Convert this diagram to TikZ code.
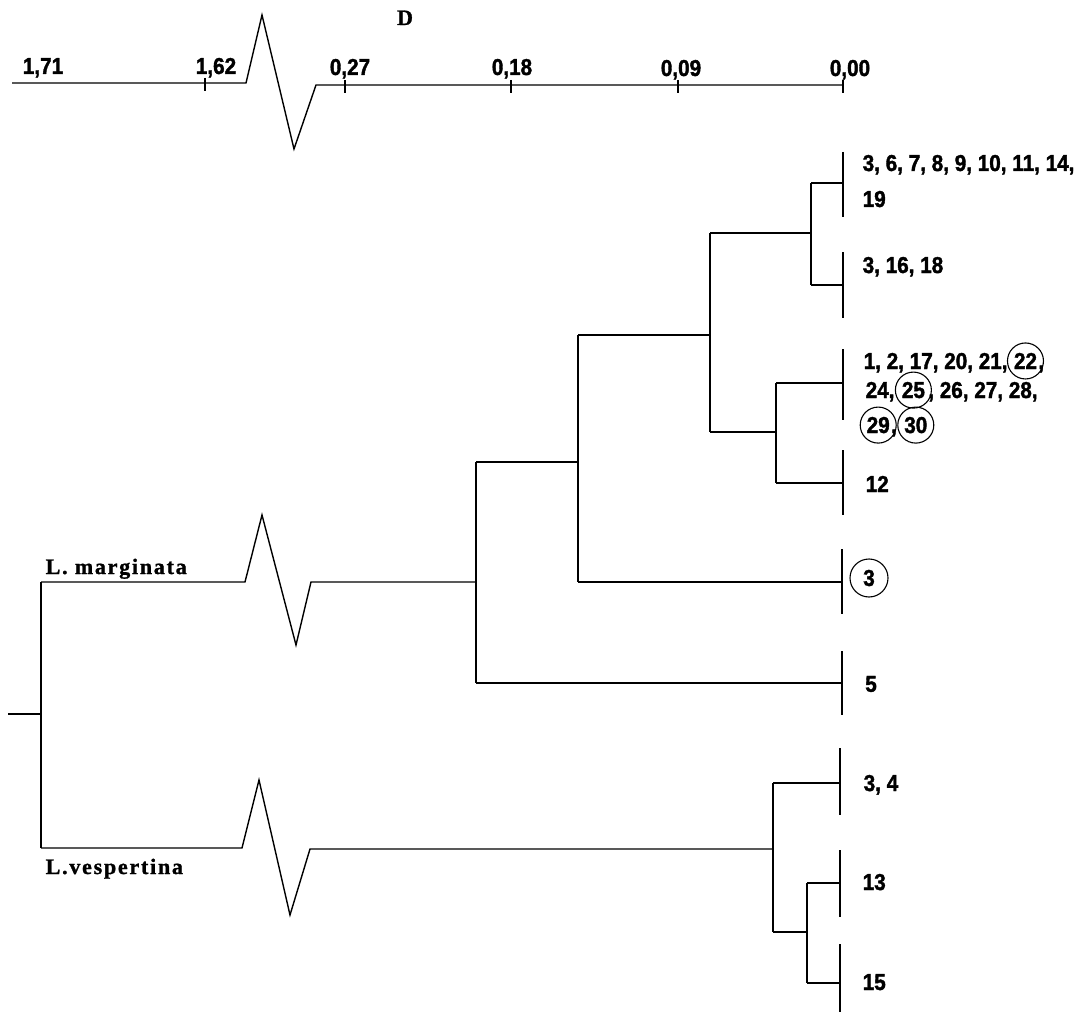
\documentclass[tikz,border=0pt]{standalone}
\usepackage{fontspec}
\setmainfont{Liberation Serif}
\newfontfamily\numfont{Liberation Sans}[FakeStretch=0.9,FakeBold=1.6]
\newfontfamily\specfont{Liberation Serif}[FakeBold=1.2,LetterSpace=8]
\begin{document}
\begin{tikzpicture}[x=1pt,y=-1pt,line width=1.4pt,
  num/.style={font=\numfont\bfseries\fontsize{23}{25}\selectfont,inner sep=0pt,anchor=base west},
  axl/.style={font=\numfont\bfseries\fontsize{23}{25}\selectfont,inner sep=0pt,anchor=base},
  spec/.style={font=\specfont\bfseries\fontsize{22}{24}\selectfont,inner sep=0pt,anchor=base west},
  ring/.style={draw,circle,minimum size=36pt,inner sep=0pt,line width=1.1pt}]
\useasboundingbox (0,0) rectangle (1080,1014);
% ---- axis ----
\coordinate (a0) at (12,83);
\coordinate (a1) at (246,83);
\coordinate (a2) at (262,15);
\coordinate (a3) at (294,149);
\coordinate (a4) at (316,85);
\coordinate (a5) at (843,85);
\draw (a0) -- (a1) -- (a2) -- (a3) -- (a4) -- (a5);
\foreach \x/\y in {205/83,345/85,511/85,678/85,843/85}
  \draw (\x,\y-5) -- (\x,\y+8);
\node[axl] (t171) at (43,74) {1,71};
\node[axl] (t162) at (216,74) {1,62};
\node[axl] (t027) at (350,75) {0,27};
\node[axl] (t018) at (512,75) {0,18};
\node[axl] (t009) at (681,76) {0,09};
\node[axl] (t000) at (850,76) {0,00};
\node[font=\specfont\bfseries\fontsize{22}{24}\selectfont,inner sep=0pt,anchor=base] (D) at (405,25) {D};
% ---- tree coordinates ----
\coordinate (root) at (8,714);
\coordinate (r) at (41,714);
\coordinate (rm) at (41,582);
\coordinate (rv) at (41,848);
\coordinate (m1) at (245,582);
\coordinate (m2) at (262,515);
\coordinate (m3) at (296,645);
\coordinate (m4) at (311,582);
\coordinate (v1) at (242,848);
\coordinate (v2) at (259,780);
\coordinate (v3) at (290,915);
\coordinate (v4) at (310,849);
% internal nodes
\coordinate (n5) at (476,582);
\coordinate (n5t) at (476,462);
\coordinate (n5b) at (476,683);
\coordinate (n4) at (578,462);
\coordinate (n4t) at (578,335);
\coordinate (n4b) at (578,582);
\coordinate (n3) at (710,335);
\coordinate (n3t) at (710,233);
\coordinate (n3b) at (710,432);
\coordinate (n1) at (811,233);
\coordinate (n1t) at (811,183);
\coordinate (n1b) at (811,285);
\coordinate (n2) at (776,432);
\coordinate (n2t) at (776,383);
\coordinate (n2b) at (776,483);
\coordinate (g0) at (773,849);
\coordinate (g0t) at (773,783);
\coordinate (g0b) at (773,932);
\coordinate (g1) at (807,932);
\coordinate (g1t) at (807,883);
\coordinate (g1b) at (807,983);
% leaves (mid, top, bottom)
\coordinate (LA) at (843,183); \coordinate (LAt) at (843,152); \coordinate (LAb) at (843,217);
\coordinate (LB) at (843,285); \coordinate (LBt) at (843,252); \coordinate (LBb) at (843,318);
\coordinate (LC) at (843,383); \coordinate (LCt) at (843,349); \coordinate (LCb) at (843,420);
\coordinate (LD) at (843,483); \coordinate (LDt) at (843,450); \coordinate (LDb) at (843,515);
\coordinate (LE) at (842,582); \coordinate (LEt) at (842,549); \coordinate (LEb) at (842,614);
\coordinate (LF) at (842,683); \coordinate (LFt) at (842,651); \coordinate (LFb) at (842,715);
\coordinate (LG) at (840,783); \coordinate (LGt) at (840,748); \coordinate (LGb) at (840,815);
\coordinate (LH) at (840,883); \coordinate (LHt) at (840,850); \coordinate (LHb) at (840,917);
\coordinate (LI) at (840,983); \coordinate (LIt) at (840,944); \coordinate (LIb) at (840,1012);
% ---- tree lines ----
\draw (root) -- (r);
\draw (rm) -- (rv);
\draw (rm) -- (m1) -- (m2) -- (m3) -- (m4) -- (n5);
\draw (rv) -- (v1) -- (v2) -- (v3) -- (v4) -- (g0);
\draw (n5t) -- (n5b);
\draw (n5t) -- (n4);
\draw (n5b) -- (LF);
\draw (n4t) -- (n4b);
\draw (n4b) -- (LE);
\draw (n4t) -- (n3);
\draw (n3t) -- (n3b);
\draw (n3t) -- (n1);
\draw (n3b) -- (n2);
\draw (n1t) -- (n1b);
\draw (n1t) -- (LA);
\draw (n1b) -- (LB);
\draw (n2t) -- (n2b);
\draw (n2t) -- (LC);
\draw (n2b) -- (LD);
\draw (g0t) -- (g0b);
\draw (g0t) -- (LG);
\draw (g0b) -- (g1);
\draw (g1t) -- (g1b);
\draw (g1t) -- (LH);
\draw (g1b) -- (LI);
\foreach \l in {A,B,C,D,E,F,G,H,I} \draw (L\l t) -- (L\l b);
% ---- species labels ----
\node[spec] (marg) at (45,574) {L. marginata};
\node[spec] (vesp) at (45,874) {L.vespertina};
% ---- leaf labels ----
\node[num] (tA1) at (862,171) {3, 6, 7, 8, 9, 10, 11, 14,};
\node[num] (tA2) at (862,207) {19};
\node[num] (tB) at (862,273) {3, 16, 18};
\node[num] (tC1) at (863,369) {1, 2, 17, 20, 21,};
\node[num] (c22) at ([xshift=5pt]tC1.base east) {22};
\node[num] (tC1b) at (c22.base east) {,};
\node[ring] (k22) at (c22.center) {};
\node[num] (tC2) at (865,398) {24,};
\node[num] (c25) at ([xshift=6pt]tC2.base east) {25};
\node[num] (tC2b) at ([xshift=2pt]c25.base east) {, 26, 27, 28,};
\node[ring] (k25) at (c25.center) {};
\node[num] (c29) at (866,433) {29};
\node[num] (tC3) at (c29.base east) {,};
\node[num] (c30) at ([xshift=6pt]tC3.base east) {30};
\node[ring] (k29) at (c29.center) {};
\node[ring] (k30) at (c30.center) {};
\node[num] (tD) at (865,492) {12};
\node[num,anchor=center] (c3) at (869,578) {3};
\node[ring,minimum size=38pt] (k3) at (c3.center) {};
\node[num,anchor=center] (tF) at (871,684) {5};
\node[num] (tG) at (863,791) {3, 4};
\node[num] (tH) at (862,890) {13};
\node[num] (tI) at (862,990) {15};
\end{tikzpicture}
\end{document}
